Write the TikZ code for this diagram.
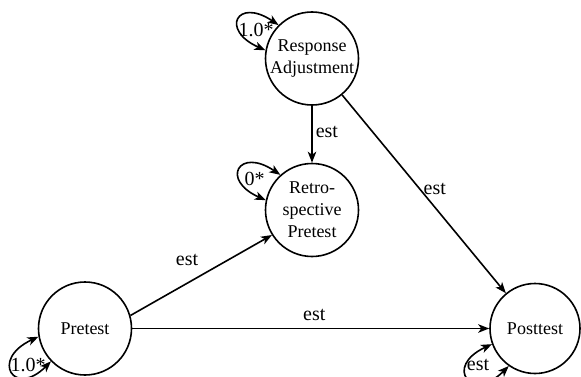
\documentclass[tikz,border=0pt]{standalone}
\usepackage{fontspec}
\setmainfont{Liberation Serif}
\usetikzlibrary{arrows.meta}
\begin{document}
\begin{tikzpicture}[x=1pt,y=1pt,
  latent/.style={circle, draw, line width=1.6pt, inner sep=0pt, minimum size=93pt,
                 align=center, font=\fontsize{18}{22}\selectfont},
  tip/.tip={Stealth[length=11pt,width=8.5pt,inset=3pt]},
  conn/.style={line width=1.6pt, -tip},
  twoway/.style={line width=1.6pt, tip-tip},
  lbl/.style={font=\fontsize{20}{22}\selectfont, inner sep=3pt}]
\useasboundingbox (0,0) rectangle (581,376);

% latent variables
\node[latent] (ra)   at (312,317.5) {Response\\Adjustment};
\node[latent] (rp)   at (312,166)   {Retro-\\spective\\Pretest};
\node[latent] (pre)  at (85,47.5)   {Pretest};
\node[latent, minimum size=90pt] (post) at (535,47.5) {Posttest};

% regression paths
\draw[conn] (ra) -- node[lbl, right, pos=0.46] {est} (rp);
\draw[conn] (ra) -- node[lbl, anchor=west, pos=0.475] {est} (post);
\draw[conn] (pre.16) -- node[lbl, above=14pt, pos=0.4] {est} (rp.212);
\draw[conn] (pre) -- node[lbl, above=4pt, pos=0.51] {est} (post);

% variances
\draw[twoway] (ra.170) .. controls +(156:50pt) and +(146:50pt) .. (ra.135);
\draw[twoway] (rp.168) .. controls +(156:50pt) and +(146:50pt) .. (rp.132);
\draw[twoway] (pre.190) .. controls +(205:54pt) and +(225:52pt) .. (pre.224);
\draw[twoway] (post.200) .. controls +(205:54pt) and +(225:52pt) .. (post.235);

\node[lbl] (rav)   at (256,346)   {1.0*};
\node[lbl] (rpv)   at (254.5,197) {0*};
\node[lbl] (prev)  at (28,11.5)   {1.0*};
\node[lbl] (postv) at (478,11)    {est};
\end{tikzpicture}
\end{document}
